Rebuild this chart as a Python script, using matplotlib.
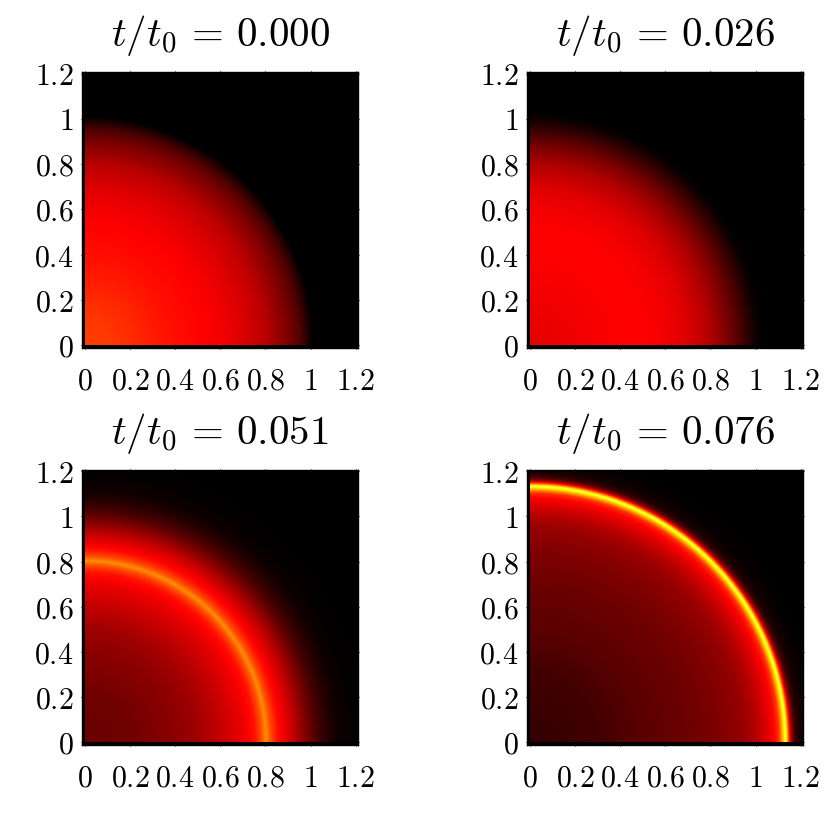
import numpy as np
import matplotlib
matplotlib.use("Agg")
import matplotlib.pyplot as plt
from matplotlib.colors import LinearSegmentedColormap

W = 830
H = 821

titles = ["0.000", "0.026", "0.051", "0.076"]
tick_values = [0, 0.2, 0.4, 0.6, 0.8, 1, 1.2]
tick_labels = ["0", "0.2", "0.4", "0.6", "0.8", "1", "1.2"]

# radial profiles, level on the colour scale against radius
r_a = [0, 0.1, 0.2, 0.3, 0.4, 0.5, 0.6, 0.7, 0.8, 0.9, 0.95, 0.98, 1.0, 1.005]
v_a = [0.46, 0.45, 0.43, 0.405, 0.385, 0.37, 0.35, 0.315, 0.265, 0.175, 0.115, 0.06, 0.02, 0]

r_b = [0, 0.1, 0.2, 0.3, 0.4, 0.5, 0.6, 0.7, 0.8, 0.87, 0.92, 0.96, 1.0, 1.03]
v_b = [0.33, 0.335, 0.345, 0.355, 0.365, 0.365, 0.35, 0.315, 0.25, 0.18, 0.12, 0.07, 0.02, 0]

r_c = [0, 0.2, 0.4, 0.5, 0.6, 0.7, 0.75, 0.78, 0.8, 0.82, 0.85, 0.88, 0.92, 0.97, 1.02, 1.07, 1.12, 1.2, 1.3]
v_c = [0.15, 0.16, 0.2, 0.23, 0.28, 0.34, 0.39, 0.48, 0.58, 0.48, 0.39, 0.34, 0.28, 0.19, 0.11, 0.055, 0.02, 0.005, 0]

r_d = [0, 0.3, 0.5, 0.7, 0.85, 0.95, 1.0, 1.05, 1.08, 1.1, 1.115, 1.13, 1.145, 1.155, 1.17, 1.19, 1.23, 1.3]
v_d = [0.07, 0.095, 0.13, 0.155, 0.185, 0.22, 0.26, 0.32, 0.37, 0.44, 0.62, 0.82, 0.42, 0.22, 0.09, 0.035, 0.012, 0]

radii = [r_a, r_b, r_c, r_d]
levels = [v_a, v_b, v_c, v_d]

# axes boxes in pixels: left, top, right, bottom
boxes = [(82, 72.5, 358, 348), (527, 72.5, 803, 348), (82, 470, 358, 745), (527, 470, 803, 745)]

plt.rcParams["mathtext.fontset"] = "cm"

# hot, but starting at true black so the field fades into the background
heat = LinearSegmentedColormap.from_list("heat", [(0, "black"), (0.365, "red"), (0.746, "yellow"), (1, "white")], N=1024)

fig = plt.figure(figsize=(W / 100, H / 100), dpi=100)

# the field is round, so each image is its radial profile looked up at every cell's radius
x = np.linspace(0, 1.21, 1000)
xx, yy = np.meshgrid(x, x)
dist = np.hypot(xx, yy)

for title, r, v, (x0, y0, x1, y1) in zip(titles, radii, levels, boxes):
    ax = fig.add_axes([x0 / W, 1 - y1 / H, (x1 - x0) / W, (y1 - y0) / H])
    ax.set_facecolor("black")
    ax.imshow(np.interp(dist, r, v), origin="lower", extent=(0, 1.21, 0, 1.21), cmap=heat, vmin=0, vmax=1,
              aspect="auto", interpolation="bilinear")
    ax.set_xlim(-0.012, 1.21)
    ax.set_ylim(-0.012, 1.205)
    ax.set_xticks(tick_values, [f"${s}$" for s in tick_labels])
    ax.set_yticks(tick_values, [f"${s}$" for s in tick_labels])
    ax.tick_params(axis="both", direction="inout", length=2, width=0.8, top=True, right=True, labelsize=21.5)
    ax.tick_params(axis="x", pad=12.5)
    ax.tick_params(axis="y", pad=5)
    ax.set_title(rf"$t/t_0\,=\,{title}$", fontsize=29.5, pad=19)
    for s in ax.spines.values():
        s.set_linewidth(1.0)

fig.savefig("out.png", dpi=100)
